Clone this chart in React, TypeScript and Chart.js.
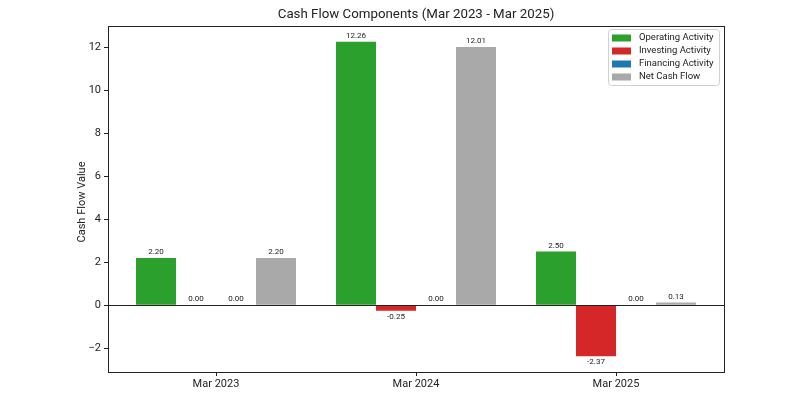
import React, { useEffect, useRef } from 'react';
import { Chart, registerables } from 'chart.js';

Chart.register(...registerables);

const categories = ['Mar 2023', 'Mar 2024', 'Mar 2025'];
const operating = [2.2, 12.26, 2.5];
const investing = [0.0, -0.25, -2.37];
const financing = [0.0, 0.0, 0.0];
const netCash = [2.2, 12.01, 0.13];
const seriesNames = ['Operating Activity', 'Investing Activity', 'Financing Activity', 'Net Cash Flow'];
const seriesColors = ['#2ca02c', '#d62728', '#1f77b4', '#a9a9a9'];
const yTicks = [-2, 0, 2, 4, 6, 8, 10, 12];
const titleText = 'Cash Flow Components (Mar 2023 - Mar 2025)';
const yLabel = 'Cash Flow Value';

const FONT = 'Roboto, "DejaVu Sans", sans-serif';

const overlay = {
  id: 'overlay',
  beforeDatasetsDraw(chart: any) {
    const { ctx, chartArea: a } = chart;
    ctx.save();
    ctx.fillStyle = '#222';
    ctx.font = `13.3px ${FONT}`;
    ctx.textAlign = 'center';
    ctx.textBaseline = 'middle';
    ctx.fillText(titleText, (a.left + a.right) / 2, 15);
    ctx.save();
    ctx.translate(82, (a.top + a.bottom) / 2 + 3);
    ctx.rotate(-Math.PI / 2);
    ctx.font = `11px ${FONT}`;
    ctx.fillText(yLabel, 0, 0);
    ctx.restore();
    ctx.restore();
  },
  afterDatasetsDraw(chart: any) {
    const { ctx, chartArea: a, scales } = chart;
    ctx.save();
    const y0 = Math.round(scales.y.getPixelForValue(0)) + 0.5;
    ctx.strokeStyle = '#222';
    ctx.lineWidth = 1;
    ctx.beginPath();
    ctx.moveTo(a.left, y0);
    ctx.lineTo(a.right, y0);
    ctx.stroke();
    ctx.strokeStyle = '#222';
    ctx.strokeRect(Math.round(a.left) + 0.5, Math.round(a.top) + 0.5, Math.round(a.right - a.left), Math.round(a.bottom - a.top));
    ctx.font = `8px ${FONT}`;
    ctx.fillStyle = '#222';
    ctx.textAlign = 'center';
    chart.data.datasets.forEach((ds: any, di: number) => {
      const meta = chart.getDatasetMeta(di);
      meta.data.forEach((bar: any, i: number) => {
        const v = ds.data[i].y;
        const txt = v.toFixed(2);
        if (v >= 0) {
          ctx.textBaseline = 'bottom';
          ctx.fillText(txt, bar.x, bar.y - 2);
        } else {
          ctx.textBaseline = 'top';
          ctx.fillText(txt, bar.x, bar.y + 2);
        }
      });
    });
    const lx = 608, ly = 29, lw = 111, lh = 56;
    ctx.fillStyle = 'rgba(255,255,255,0.85)';
    ctx.strokeStyle = '#d0d0d0';
    ctx.lineWidth = 1;
    ctx.beginPath();
    (ctx as any).roundRect(lx + 0.5, ly + 0.5, lw, lh, 3);
    ctx.fill();
    ctx.stroke();
    ctx.font = `9.5px ${FONT}`;
    ctx.textAlign = 'left';
    ctx.textBaseline = 'middle';
    seriesNames.forEach((name, i) => {
      const cy = 38 + i * 13;
      ctx.fillStyle = seriesColors[i];
      ctx.fillRect(612, cy - 3.5, 19, 7);
      ctx.fillStyle = '#222';
      ctx.fillText(name, 639, cy);
    });
    ctx.restore();
  },
};

export default function App() {
  const ref = useRef<HTMLCanvasElement | null>(null);
  useEffect(() => {
    document.body.style.margin = '0';
    const seriesData = [operating, investing, financing, netCash];
    const chart = new Chart(ref.current as HTMLCanvasElement, {
      type: 'bar',
      data: {
        datasets: seriesData.map((vals, si) => ({
          label: seriesNames[si],
          data: vals.map((v, i) => ({ x: i, y: v })),
          backgroundColor: seriesColors[si],
          borderWidth: 0,
          categoryPercentage: 0.8,
          barPercentage: 1.0,
        })),
      },
      options: {
        animation: false,
        responsive: false,
        maintainAspectRatio: false,
        layout: { padding: { top: 26, right: 76, bottom: 0, left: 0 } },
        plugins: { legend: { display: false }, title: { display: false }, tooltip: { enabled: false } },
        scales: {
          x: {
            type: 'linear',
            min: -0.54,
            max: 2.54,
            offset: false,
            grid: { display: true, drawOnChartArea: false, drawTicks: true, tickLength: 4, color: '#222', offset: false },
            border: { display: true, color: '#222' },
            afterBuildTicks: (s: any) => { s.ticks = categories.map((_, i) => ({ value: i })); },
            afterFit: (s: any) => { s.height = 28; },
            ticks: {
              color: '#222',
              font: { family: FONT, size: 11 },
              padding: 2,
              maxRotation: 0,
              autoSkip: false,
              callback: (v: any) => categories[Math.round(Number(v))] ?? '',
            },
          },
          y: {
            type: 'linear',
            min: -3.1,
            max: 12.99,
            grid: { display: true, drawOnChartArea: false, drawTicks: true, tickLength: 4, color: '#222' },
            border: { display: true, color: '#222' },
            afterBuildTicks: (s: any) => { s.ticks = yTicks.map((v) => ({ value: v })); },
            afterFit: (s: any) => { s.width = 108; },
            ticks: {
              color: '#222',
              font: { family: FONT, size: 11 },
              padding: 3,
              autoSkip: false,
              callback: (v: any) => String(v).replace('-', '\u2212'),
            },
          },
        },
      },
      plugins: [overlay],
    });
    return () => chart.destroy();
  }, []);
  return (
    <div style={{ width: 800, height: 400, position: 'relative', background: '#fff' }}>
      <canvas ref={ref} width={800} height={400} style={{ display: 'block', width: 800, height: 400 }} />
    </div>
  );
}
